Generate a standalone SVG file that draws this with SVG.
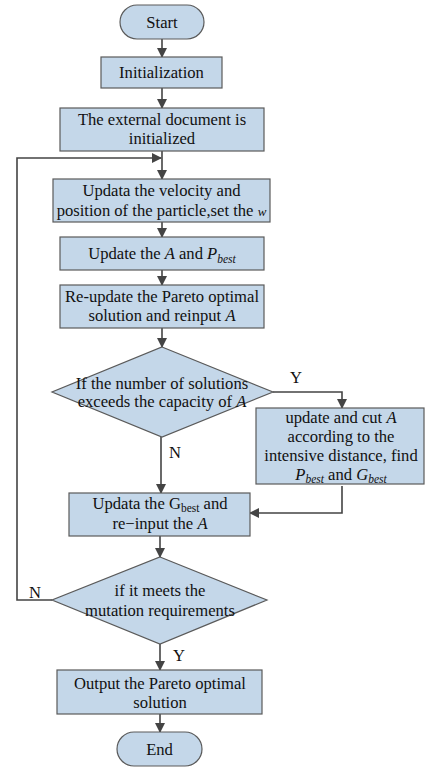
<svg xmlns="http://www.w3.org/2000/svg" width="425" height="768" viewBox="0 0 425 768">
<style>
.n{fill:#c4d7e9;stroke:#5a5a5a;stroke-width:1.2}
text{font-family:"Liberation Serif","Times New Roman",serif;font-size:16.6px;fill:#111;text-anchor:middle}
.i{font-style:italic}
.s{font-size:11.5px}
.c{fill:none;stroke:#444;stroke-width:1.6}
</style>
<defs>
<marker id="a" markerWidth="10" markerHeight="10" refX="9" refY="5" orient="auto" markerUnits="userSpaceOnUse">
<path d="M0,0 L10,5 L0,10 Z" fill="#444"/>
</marker>
</defs>
<g id="connectors">
<path class="c" d="M162,39 V57" marker-end="url(#a)"/>
<path class="c" d="M162,88 V108" marker-end="url(#a)"/>
<path class="c" d="M162,151 V179" marker-end="url(#a)"/>
<path class="c" d="M52,600 H17 V158 H161" marker-end="url(#a)"/>
<path class="c" d="M162,222 V237" marker-end="url(#a)"/>
<path class="c" d="M162,270 V285" marker-end="url(#a)"/>
<path class="c" d="M162,328 V347" marker-end="url(#a)"/>
<path class="c" d="M273,392 H342 V408" marker-end="url(#a)"/>
<path class="c" d="M161,437 V493" marker-end="url(#a)"/>
<path class="c" d="M342,486 V513 H250" marker-end="url(#a)"/>
<path class="c" d="M160,536 V557" marker-end="url(#a)"/>
<path class="c" d="M160,644 V670" marker-end="url(#a)"/>
<path class="c" d="M160,714 V732" marker-end="url(#a)"/>
<text x="296" y="383">Y</text>
<text x="175" y="458">N</text>
<text x="35" y="598">N</text>
<text x="179" y="661">Y</text>
</g>
<g id="start">
<rect class="n" x="120" y="5" width="84" height="34" rx="17"/>
<text x="162" y="28">Start</text>
</g>
<g id="init">
<rect class="n" x="101" y="57" width="121" height="31"/>
<text x="161.5" y="78">Initialization</text>
</g>
<g id="extdoc">
<rect class="n" x="60" y="108" width="204" height="43"/>
<text x="162" y="125">The external document is</text>
<text x="162" y="144">initialized</text>
</g>
<g id="velocity">
<rect class="n" x="53" y="179" width="217" height="43"/>
<text x="161.5" y="196">Updata the velocity and</text>
<text x="161.5" y="216">position of the particle,set the <tspan class="i" font-size="13">w</tspan></text>
</g>
<g id="updateA">
<rect class="n" x="60" y="237" width="204" height="33"/>
<text x="162" y="259">Update the <tspan class="i">A</tspan> and <tspan class="i">P</tspan><tspan class="i s" dy="4">best</tspan></text>
</g>
<g id="reupdate">
<rect class="n" x="60" y="285" width="204" height="43"/>
<text x="162" y="302">Re-update the Pareto optimal</text>
<text x="162" y="321">solution and reinput <tspan class="i">A</tspan></text>
</g>
<g id="decision1">
<path class="n" d="M162,347 L273,392 L162,437 L52,392 Z"/>
<text x="162" y="389">If  the number of solutions</text>
<text x="162" y="407">exceeds the capacity of <tspan class="i">A</tspan></text>
</g>
<g id="cutA">
<rect class="n" x="256" y="408" width="168" height="76"/>
<text x="341" y="423" font-size="17.2">update and cut <tspan class="i">A</tspan></text>
<text x="341" y="442" font-size="17.2">according to the</text>
<text x="341" y="461" font-size="17.2">intensive distance, find</text>
<text x="341" y="480" font-size="17.2"><tspan class="i">P</tspan><tspan class="i s" dy="3">best</tspan><tspan dy="-3"> and </tspan><tspan class="i">G</tspan><tspan class="i s" dy="3">best</tspan></text>
</g>
<g id="gbest">
<rect class="n" x="69" y="493" width="181" height="43"/>
<text x="160" y="509">Updata the G<tspan class="s" dy="3">best</tspan><tspan dy="-3"> and</tspan></text>
<text x="160" y="529">re−input the <tspan class="i">A</tspan></text>
</g>
<g id="decision2">
<path class="n" d="M160,557 L267,600 L160,644 L52,600 Z"/>
<text x="160" y="596">if it meets the</text>
<text x="160" y="616">mutation requirements</text>
</g>
<g id="output">
<rect class="n" x="57" y="670" width="205" height="44"/>
<text x="160" y="689">Output the Pareto optimal</text>
<text x="160" y="708">solution</text>
</g>
<g id="end">
<rect class="n" x="117" y="732" width="85" height="34" rx="17"/>
<text x="159.5" y="755">End</text>
</g>
</svg>
